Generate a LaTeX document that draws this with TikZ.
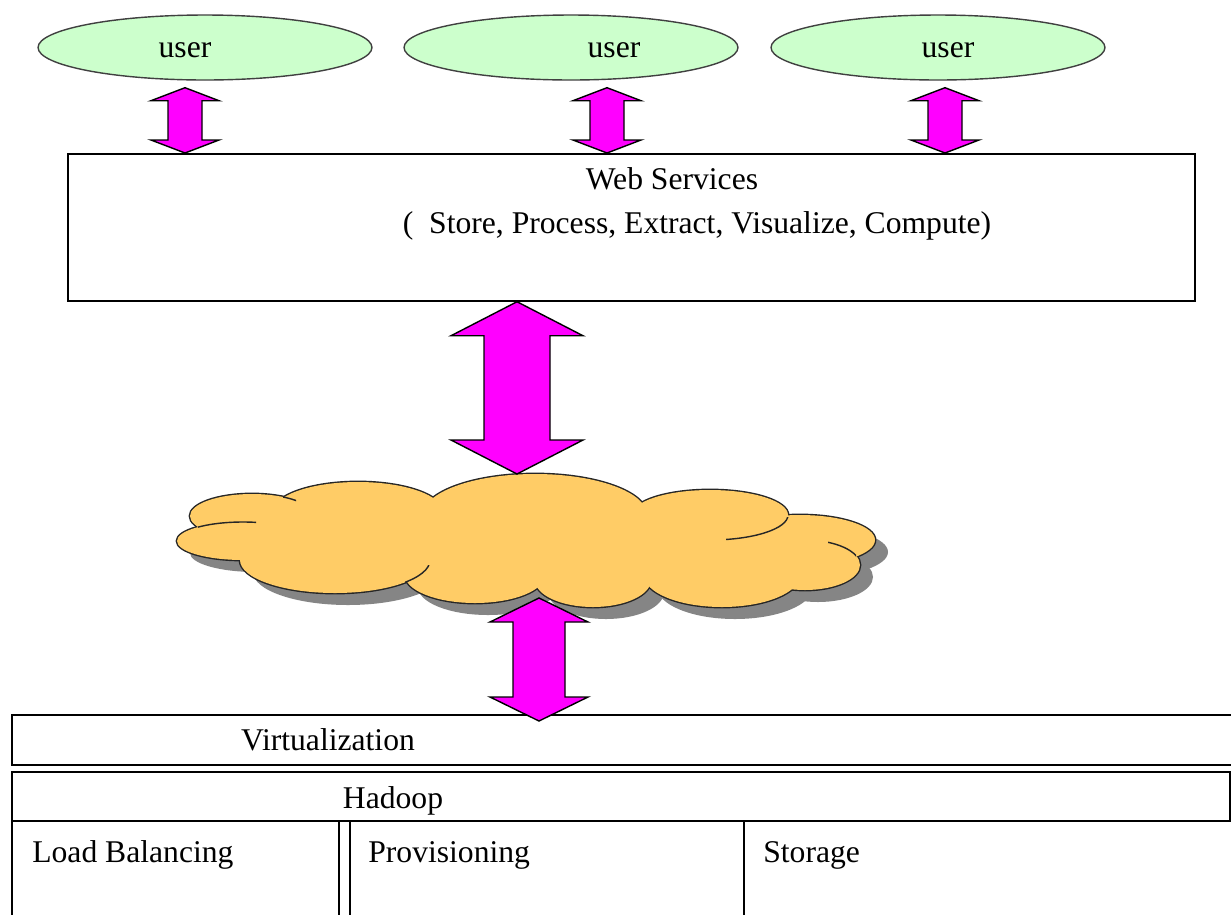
\documentclass[tikz,border=0pt]{standalone}
\usepackage{fontspec}
\setmainfont{Liberation Serif}
\usetikzlibrary{positioning, calc, shapes.geometric}
\definecolor{userfill}{HTML}{CCFFCC}
\definecolor{cloudfill}{HTML}{FFCC66}
\definecolor{arrowfill}{HTML}{FF00FF}
\definecolor{shadowgray}{HTML}{858585}

% one pixel of the layout grid
\def\pxu{0.02cm}

% vertical two-headed block arrow: top end, bottom end, half head, half shaft, head length
\newcommand{\twoway}[5]{%
  \draw[dblarrow] let \p1=(#1), \p2=(#2) in
    (\x1,\y1) -- (\x1+#3*\pxu,\y1-#5*\pxu) -- (\x1+#4*\pxu,\y1-#5*\pxu)
    -- (\x1+#4*\pxu,\y2+#5*\pxu) -- (\x1+#3*\pxu,\y2+#5*\pxu) -- (\x1,\y2)
    -- (\x1-#3*\pxu,\y2+#5*\pxu) -- (\x1-#4*\pxu,\y2+#5*\pxu)
    -- (\x1-#4*\pxu,\y1-#5*\pxu) -- (\x1-#3*\pxu,\y1-#5*\pxu) -- cycle;}

% puffs of the cloud: cx/cy/rx/ry
\def\cloudpuffs{535/515/112/41, 358/512/85/30, 252/516/62/22, 243/541/66/19,
  335/560/95/33, 475/575/70/28, 593/580/58/27, 722/575/78/32,
  805/565/55/25, 800/540/75/25, 710/515/78/25}

\begin{document}
\begin{tikzpicture}[x=0.02cm, y=-0.02cm,
    txt/.style={font=\fontsize{18pt}{22pt}\selectfont, inner sep=0pt, anchor=base},
    userell/.style={ellipse, draw=black!75, line width=0.8pt, fill=userfill,
                    minimum width=6.68cm, minimum height=1.3cm, inner sep=0pt},
    plainbox/.style={rectangle, draw=black, line width=1pt, fill=white,
                     inner sep=0pt, anchor=north west},
    dblarrow/.style={draw=black, fill=arrowfill, line width=0.8pt, line join=miter},
    cloudline/.style={draw=black!85, line width=0.8pt}
  ]
  \fill[white] (0,0) rectangle (1231,914);
  \useasboundingbox (0,0) rectangle (1231,914);
  \clip (0,0) rectangle (1231,914);

  % users
  \node[userell] (u1) at (205,47.5) {};
  \node[userell] (u2) at (571,47.5) {};
  \node[userell] (u3) at (938,47.5) {};
  \node[txt] (u1lbl) at ($(u1.center)+(-20,9.5)$) {user};
  \node[txt] (u2lbl) at ($(u2.center)+(43,9.5)$) {user};
  \node[txt] (u3lbl) at ($(u3.center)+(10,9.5)$) {user};

  % web layer
  \node[plainbox, minimum width=22.54cm, minimum height=2.94cm] (web) at (67,153) {};
  \node[txt] (webname) at ($(web.north west)+(605,36)$) {Web Services};
  \node[txt] (weblist) at ($(web.north west)+(630,80)$)
    {(~ Store, Process, Extract, Visualize, Compute)};

  % cloud: shadow, outline, then fill over the inner strokes
  \foreach \cx/\cy/\rx/\ry in \cloudpuffs
    \fill[shadowgray] (\cx+13,\cy+12) ellipse[x radius=\rx, y radius=\ry];
  \fill[shadowgray] (543,557) ellipse[x radius=290, y radius=36];
  \foreach \cx/\cy/\rx/\ry in \cloudpuffs
    \draw[black!85, line width=1.6pt] (\cx,\cy) ellipse[x radius=\rx, y radius=\ry];
  \foreach \cx/\cy/\rx/\ry in \cloudpuffs
    \fill[cloudfill] (\cx,\cy) ellipse[x radius=\rx, y radius=\ry];
  \fill[cloudfill] (530,545) ellipse[x radius=290, y radius=36];
  % a few puff edges running on into the cloud
  \foreach \ax/\ay/\bx/\by/\cx/\cy/\rx/\ry in {
      283/490/296/506/252/516/62/22, 198/515/256/532/243/541/66/19,
      405/565/430/590/335/560/95/33, 726/517/790/545/710/515/78/25,
      828/538/856/560/805/565/55/25} {
    \begin{scope}
      \clip (\ax,\ay) rectangle (\bx,\by);
      \draw[cloudline] (\cx,\cy) ellipse[x radius=\rx, y radius=\ry];
    \end{scope}
  }
  \coordinate (cloudtop) at (517,474);
  \coordinate (cloudbot) at (539,598);

  % lower layers
  \node[plainbox, minimum width=25cm, minimum height=1cm] (virt) at (11,714) {};
  \node[txt] (virtlbl) at (328,750) {Virtualization};
  \node[plainbox, minimum width=24.36cm, minimum height=0.98cm] (hadoop) at (11,771) {};
  \node[txt] (hadooplbl) at (393,808) {Hadoop};
  \node[plainbox, minimum width=6.54cm, minimum height=2.4cm] (lb) at (11,820) {};
  \node[plainbox, minimum width=7.88cm, minimum height=2.4cm] (prov) at (349,820) {};
  \node[plainbox, minimum width=12cm, minimum height=2.4cm] (stor) at (743,820) {};
  \node[txt, anchor=base west] (lblbl) at ($(lb.north west)+(21,42)$) {Load Balancing};
  \node[txt, anchor=base west] (provlbl) at ($(prov.north west)+(19,42)$) {Provisioning};
  \node[txt, anchor=base west] (storlbl) at ($(stor.north west)+(20,42)$) {Storage};

  % connectors
  \coordinate (a1) at ($(u1.south)+(-20,7)$);
  \coordinate (a2) at ($(u2.south)+(36,7)$);
  \coordinate (a3) at ($(u3.south)+(7,7)$);
  \twoway{a1}{a1 |- web.north}{34}{17}{13}
  \twoway{a2}{a2 |- web.north}{34}{17}{13}
  \twoway{a3}{a3 |- web.north}{34}{17}{13}
  \twoway{cloudtop |- web.south}{cloudtop}{66}{33}{34}
  \coordinate (virtin) at ($(cloudbot |- virt.north)+(0,7)$);
  \twoway{cloudbot}{virtin}{49}{26}{24}
\end{tikzpicture}
\end{document}
